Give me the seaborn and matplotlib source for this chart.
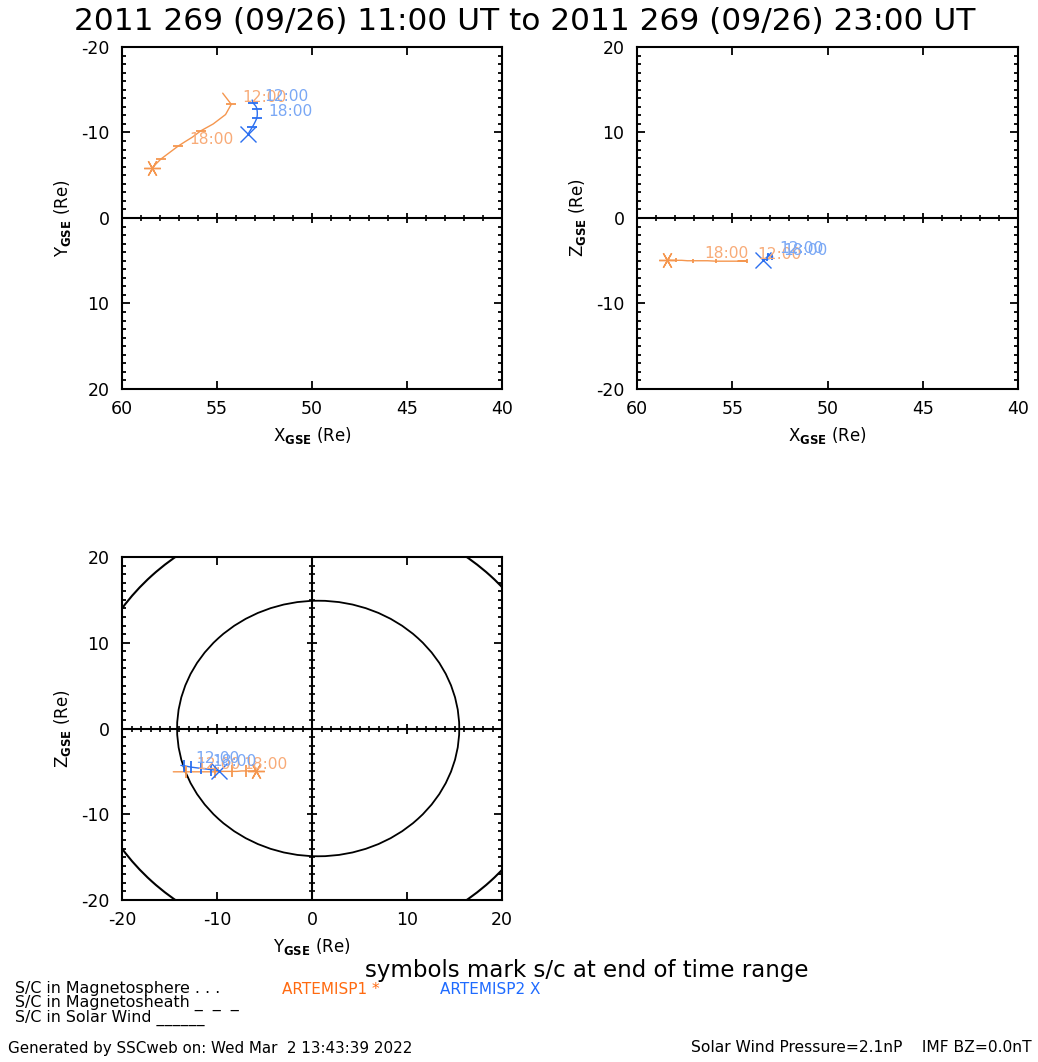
import numpy as np
import pandas as pd
import matplotlib
matplotlib.use("Agg")
import matplotlib.pyplot as plt
from matplotlib.patches import Ellipse
import seaborn as sns

# ---- orbit data (GSE, Earth radii), hourly from 11:00 to 23:00 UT ----
hours = [11, 12, 13, 14, 15, 16, 17, 18, 19, 20, 21, 22, 23]

p1_x = [54.7, 54.25, 54.55, 55.2, 55.85, 56.3, 56.7, 57.05, 57.35, 57.65, 57.95, 58.2, 58.4]
p1_y = [-14.6, -13.3, -12.1, -11.0, -10.2, -9.45, -8.9, -8.4, -7.9, -7.4, -6.9, -6.35, -5.85]
p1_z = [-5.05, -5.05, -5.05, -5.05, -5.05, -5.0, -5.0, -5.0, -5.0, -4.95, -4.95, -4.95, -4.9]

p2_x = [53.15, 53.1, 53.0, 52.93, 52.9, 52.88, 52.88, 52.9, 52.98, 53.06, 53.15, 53.26, 53.37]
p2_y = [-13.8, -13.45, -13.2, -12.98, -12.75, -12.4, -12.05, -11.7, -11.3, -10.95, -10.6, -10.2, -9.8]
p2_z = [-4.3, -4.35, -4.4, -4.45, -4.5, -4.55, -4.6, -4.65, -4.7, -4.75, -4.8, -4.85, -4.9]

tick_hours = [12, 15, 18, 21]
label_hours = [12, 18]

# magnetopause and bow shock cross sections in the Y-Z plane
mp_center_y, mp_radius_y, mp_radius_z = 0.65, 14.85, 14.9
bs_center_y, bs_radius = 0.95, 25.2

title = "2011 269 (09/26) 11:00 UT to 2011 269 (09/26) 23:00 UT"

# ---- styling ----
sns.set_style("ticks")
plt.rcParams["font.family"] = ["DejaVu Sans"]
plt.rcParams["axes.unicode_minus"] = False
for key in ["text.color", "axes.labelcolor", "xtick.color", "ytick.color", "axes.edgecolor"]:
    plt.rcParams[key] = "black"

P1_LINE, P1_TEXT, P1_KEY = "#f5964e", "#f8ab78", "#ff6a10"
P2_LINE, P2_TEXT, P2_KEY = "#2b6ff0", "#7aa8f5", "#1f6bff"

W, H = 1038, 1062
fig = plt.figure(figsize=(W / 100, H / 100), dpi=100)
fig.patch.set_facecolor("white")


def ax_rect(left, top, right, bottom):
    return [left / W, 1 - bottom / H, (right - left) / W, (bottom - top) / H]


ax_xy = fig.add_axes(ax_rect(122, 47, 502, 389))
ax_xz = fig.add_axes(ax_rect(637, 47, 1018, 389))
ax_yz = fig.add_axes(ax_rect(122, 557, 502, 900))

df1 = pd.DataFrame({"hour": hours, "X": p1_x, "Y": p1_y, "Z": p1_z})
df2 = pd.DataFrame({"hour": hours, "X": p2_x, "Y": p2_y, "Z": p2_z})

star = (6, 2, 90)


def style_axes(ax, xmajor, ymajor, xlim, ylim):
    ax.set_xlim(*xlim)
    ax.set_ylim(*ylim)
    ax.set_xticks(xmajor)
    ax.set_yticks(ymajor)
    lo, hi = sorted(ylim)
    ax.set_yticks(np.arange(lo, hi + 1, 1), minor=True)
    ax.tick_params(axis="both", which="both", direction="in", top=True, right=True,
                   color="black", width=1.3, labelcolor="black")
    ax.tick_params(axis="both", which="major", length=5.5, labelsize=12.5)
    ax.tick_params(axis="y", which="minor", length=3)
    ax.tick_params(axis="x", which="major", pad=8)
    ax.tick_params(axis="y", which="major", pad=9)
    for s in ax.spines.values():
        s.set_linewidth(1.5)
        s.set_color("black")
    ax.set_facecolor("white")


def zero_line_h(ax, lo, hi, major):
    ax.axhline(0, color="black", lw=1.5, zorder=1)
    minor = [v for v in range(lo + 1, hi) if v not in major]
    ax.plot(minor, [0] * len(minor), ls="none", marker="|", ms=4, mew=1.2, color="black", zorder=1)
    ax.plot(major, [0] * len(major), ls="none", marker="|", ms=7.5, mew=1.3, color="black", zorder=1)


def zero_line_v(ax, lo, hi, major):
    ax.axvline(0, color="black", lw=1.5, zorder=1)
    minor = [v for v in range(lo + 1, hi) if v not in major]
    ax.plot([0] * len(minor), minor, ls="none", marker="_", ms=4, mew=1.2, color="black", zorder=1)
    ax.plot([0] * len(major), major, ls="none", marker="_", ms=7.5, mew=1.3, color="black", zorder=1)


def trajectory(ax, df, xcol, ycol, line_c, text_c, end_marker, end_size, tick_marker, tick_size):
    sns.lineplot(data=df, x=xcol, y=ycol, sort=False, estimator=None, ax=ax,
                 color=line_c, lw=1.0, zorder=3)
    t = df[df["hour"].isin(tick_hours)]
    ax.plot(t[xcol], t[ycol], ls="none", marker=tick_marker, ms=tick_size, mew=1.3,
            color=line_c, zorder=4)
    end = df.iloc[-1]
    ax.plot([end[xcol]], [end[ycol]], ls="none", marker=end_marker, ms=end_size, mew=1.0,
            color=line_c, zorder=4)
    for h in label_hours:
        r = df[df["hour"] == h].iloc[0]
        ax.annotate(f"{h:02d}:00", (r[xcol], r[ycol]), xytext=(8, 5), textcoords="offset points",
                    ha="left", va="center", fontsize=11.2, color=text_c, zorder=5)


# X-Y plane
style_axes(ax_xy, [60, 55, 50, 45, 40], [-20, -10, 0, 10, 20], (60, 40), (20, -20))
zero_line_h(ax_xy, 40, 60, [45, 50, 55])
trajectory(ax_xy, df1, "X", "Y", P1_LINE, P1_TEXT, star, 12, "_", 7)
trajectory(ax_xy, df2, "X", "Y", P2_LINE, P2_TEXT, "x", 11, "_", 7)
ax_xy.set_xlabel(r"X$_{\mathbf{GSE}}$ (Re)", fontsize=12, labelpad=5)
ax_xy.set_ylabel(r"Y$_{\mathbf{GSE}}$ (Re)", fontsize=12, labelpad=6)

# X-Z plane
style_axes(ax_xz, [60, 55, 50, 45, 40], [-20, -10, 0, 10, 20], (60, 40), (-20, 20))
zero_line_h(ax_xz, 40, 60, [45, 50, 55])
trajectory(ax_xz, df1, "X", "Z", P1_LINE, P1_TEXT, star, 12, "|", 3.5)
trajectory(ax_xz, df2, "X", "Z", P2_LINE, P2_TEXT, "x", 11, "|", 3.5)
ax_xz.set_xlabel(r"X$_{\mathbf{GSE}}$ (Re)", fontsize=12, labelpad=5)
ax_xz.set_ylabel(r"Z$_{\mathbf{GSE}}$ (Re)", fontsize=12, labelpad=6)

# Y-Z plane with boundary cross sections
style_axes(ax_yz, [-20, -10, 0, 10, 20], [-20, -10, 0, 10, 20], (-20, 20), (-20, 20))
ax_yz.add_patch(Ellipse((bs_center_y, 0), 2 * bs_radius, 2 * bs_radius, fill=False,
                        ec="black", lw=1.5, zorder=2))
ax_yz.add_patch(Ellipse((mp_center_y, 0), 2 * mp_radius_y, 2 * mp_radius_z, fill=False,
                        ec="black", lw=1.3, zorder=2))
zero_line_h(ax_yz, -20, 20, [-10, 10])
zero_line_v(ax_yz, -20, 20, [-10, 10])
trajectory(ax_yz, df1, "Y", "Z", P1_LINE, P1_TEXT, star, 12, "|", 8)
trajectory(ax_yz, df2, "Y", "Z", P2_LINE, P2_TEXT, "x", 11, "|", 8)
ax_yz.set_xlabel(r"Y$_{\mathbf{GSE}}$ (Re)", fontsize=12, labelpad=5)
ax_yz.set_ylabel(r"Z$_{\mathbf{GSE}}$ (Re)", fontsize=12, labelpad=6)


def ftext(x, y, s, **kw):
    fig.text(x / W, 1 - y / H, s, va="center", **kw)


ftext(525, 21, title, ha="center", fontsize=22.5)
ftext(365, 971, "symbols mark s/c at end of time range", ha="left", fontsize=16.5)
ftext(15, 988, "S/C in Magnetosphere . . .", ha="left", fontsize=11.4)
ftext(15, 1003, "S/C in Magnetosheath _  _  _", ha="left", fontsize=11.4)
ftext(15, 1018, "S/C in Solar Wind ______", ha="left", fontsize=11.4)
ftext(282, 989, "ARTEMISP1 *", ha="left", fontsize=11, color=P1_KEY)
ftext(440, 989, "ARTEMISP2 X", ha="left", fontsize=11, color=P2_KEY)
ftext(8, 1048, "Generated by SSCweb on: Wed Mar  2 13:43:39 2022", ha="left", fontsize=10.9)
ftext(1032, 1048, "Solar Wind Pressure=2.1nP    IMF BZ=0.0nT", ha="right", fontsize=11.2)

fig.savefig("out.png", dpi=100, facecolor="white")
